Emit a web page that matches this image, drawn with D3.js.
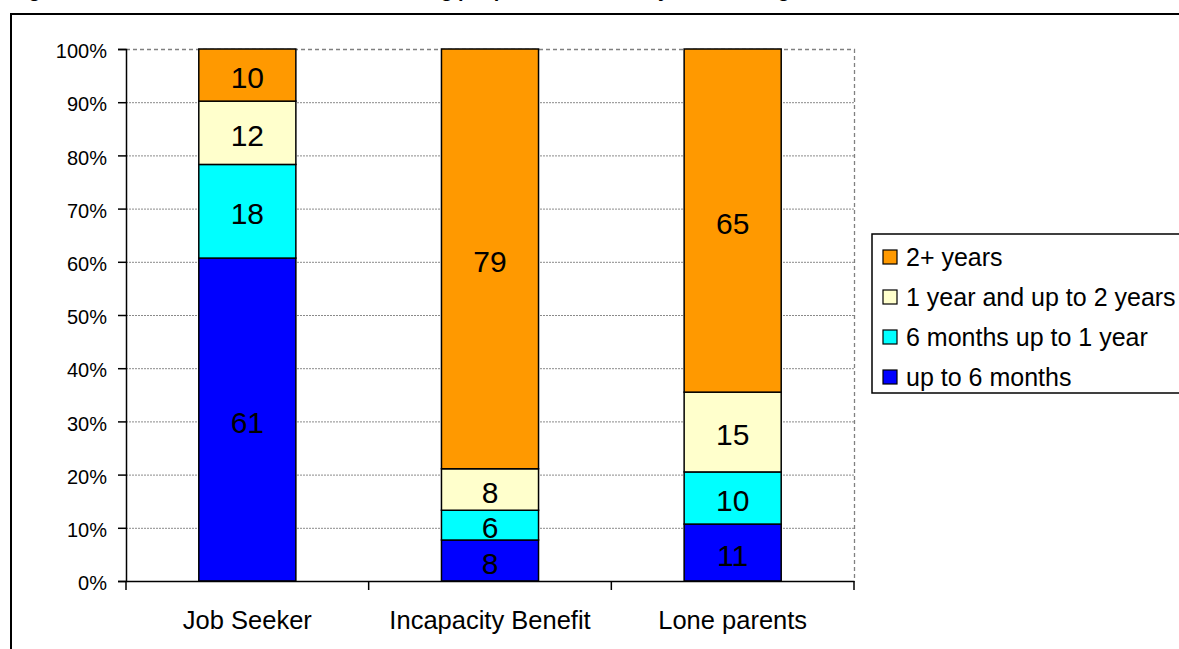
<!DOCTYPE html>
<html>
<head>
<meta charset="utf-8">
<script src="https://cdn.jsdelivr.net/npm/d3@7"></script>
<style>
  html, body { margin: 0; padding: 0; background: #fff; }
  svg { display: block; font-family: "Liberation Sans", Arial, sans-serif; }
</style>
</head>
<body>
<svg id="chart" width="1179" height="649"></svg>
<script>
// ---- data ----
const titleText = "Figure 3: Duration of current claim for working people on benefits, by benefit, August 2007";
const categories = ["Job Seeker", "Incapacity Benefit", "Lone parents"];
const seriesNames = ["up to 6 months", "6 months up to 1 year", "1 year and up to 2 years", "2+ years"];
const upTo6Months = [60.7, 7.7, 10.7];
const sixMonthsTo1Year = [17.6, 5.6, 9.8];
const oneTo2Years = [11.9, 7.8, 15.0];
const twoPlusYears = [9.8, 78.9, 64.5];
const yTicks = [0, 10, 20, 30, 40, 50, 60, 70, 80, 90, 100];
const colors = ["#0000FF", "#00FFFF", "#FFFFCC", "#FF9900"];

const seriesValues = [upTo6Months, sixMonthsTo1Year, oneTo2Years, twoPlusYears];
const rows = categories.map((c, i) => {
  const r = { category: c };
  seriesNames.forEach((s, j) => r[s] = seriesValues[j][i]);
  return r;
});

const svg = d3.select("#chart");
svg.append("rect").attr("width", 1179).attr("height", 649).attr("fill", "#fff");

// title (cut off at top edge in the reference)
svg.append("text")
  .attr("x", 12).attr("y", -3)
  .attr("font-size", 20).attr("font-weight", "bold").attr("font-style", "italic")
  .text(titleText);

// outer chart border
svg.append("rect")
  .attr("x", 11).attr("y", 14).attr("width", 1250).attr("height", 700)
  .attr("fill", "none").attr("stroke", "#000").attr("stroke-width", 2);

const plotLeft = 126, plotRight = 854, plotTop = 49, plotBottom = 581;

const x = d3.scaleBand().domain(categories).range([plotLeft, plotRight])
  .paddingInner(0.6).paddingOuter(0.3);
const y = d3.scaleLinear().domain([0, 100]).range([plotBottom, plotTop]);

// gridlines
svg.append("g").selectAll("line").data(yTicks.filter(t => t > 0 && t < 100)).join("line")
  .attr("x1", plotLeft).attr("x2", plotRight)
  .attr("y1", d => y(d) + 0.5).attr("y2", d => y(d) + 0.5)
  .attr("stroke", "#8a8a8a").attr("stroke-width", 1).attr("stroke-dasharray", "2,1");

// plot area border (top & right dashed)
svg.append("path")
  .attr("d", `M${plotLeft},${plotTop + 0.5}H${plotRight + 0.5}V${plotBottom}`)
  .attr("fill", "none").attr("stroke", "#808080").attr("stroke-width", 1.3)
  .attr("stroke-dasharray", "4,3");

// bars
const stacked = d3.stack().keys(seriesNames)(rows);
const layers = svg.append("g").selectAll("g").data(stacked).join("g")
  .attr("fill", (d, i) => colors[i]);
layers.selectAll("rect").data(d => d).join("rect")
  .attr("x", d => x(d.data.category))
  .attr("width", x.bandwidth())
  .attr("y", d => y(d[1]))
  .attr("height", d => y(d[0]) - y(d[1]))
  .attr("stroke", "#000").attr("stroke-width", 1.5);

// data labels
layers.selectAll("text").data(d => d).join("text")
  .attr("x", d => x(d.data.category) + x.bandwidth() / 2)
  .attr("y", d => (y(d[0]) + y(d[1])) / 2)
  .attr("dy", "0.44em")
  .attr("text-anchor", "middle")
  .attr("font-size", 30).attr("fill", "#000")
  .text(d => Math.round(d[1] - d[0]));

// y axis
const yAxis = d3.axisLeft(y).tickValues(yTicks).tickSize(8).tickFormat(d => d + "%");
const yg = svg.append("g").attr("transform", `translate(${plotLeft},0)`).call(yAxis);
yg.select(".domain").attr("stroke", "#000").attr("stroke-width", 1.5);
yg.selectAll(".tick line").attr("stroke", "#000").attr("stroke-width", 1.5);
yg.selectAll(".tick text").attr("font-size", 20).attr("font-family", "Liberation Sans, Arial, sans-serif")
  .attr("fill", "#000").attr("x", -19).attr("dy", "0.43em");

// x axis
const xAxis = d3.axisBottom(x).tickSize(0);
const xg = svg.append("g").attr("transform", `translate(0,${plotBottom})`).call(xAxis);
xg.select(".domain").attr("stroke", "#000").attr("stroke-width", 1.5);
xg.selectAll(".tick text").attr("font-size", 25.5).attr("font-family", "Liberation Sans, Arial, sans-serif")
  .attr("fill", "#000").attr("y", 48).attr("dy", 0);
// boundary ticks between categories
const bounds = d3.range(categories.length + 1).map(i => plotLeft + i * (plotRight - plotLeft) / categories.length);
xg.append("g").selectAll("line").data(bounds).join("line")
  .attr("x1", d => d).attr("x2", d => d).attr("y1", 0).attr("y2", 9)
  .attr("stroke", "#000").attr("stroke-width", 1.5);

// legend
const legend = svg.append("g");
legend.append("rect").attr("x", 872).attr("y", 234).attr("width", 400).attr("height", 159)
  .attr("fill", "#fff").attr("stroke", "#000").attr("stroke-width", 1.5);
const legendOrder = seriesNames.map((s, i) => ({ name: s, color: colors[i] })).reverse();
const li = legend.selectAll("g.item").data(legendOrder).join("g").attr("class", "item")
  .attr("transform", (d, i) => `translate(0,${257 + i * 40})`);
li.append("rect").attr("x", 883).attr("y", -7).attr("width", 14).attr("height", 14)
  .attr("fill", d => d.color).attr("stroke", "#000").attr("stroke-width", 1.2);
li.append("text").attr("x", 906).attr("y", 0).attr("dy", "0.35em")
  .attr("font-size", 25).attr("fill", "#000").text(d => d.name);
</script>
</body>
</html>
